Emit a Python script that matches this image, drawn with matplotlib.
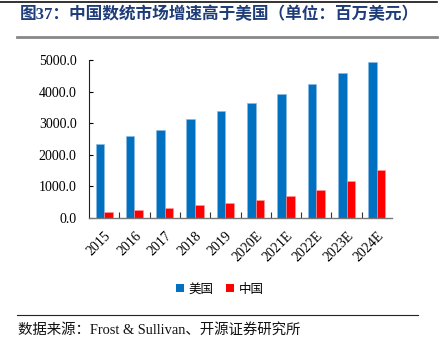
import matplotlib
matplotlib.use("Agg")
import matplotlib.pyplot as plt
import numpy as np
from matplotlib.lines import Line2D
from matplotlib.patches import Patch

MIX = ["Liberation Serif", "Noto Sans CJK SC"]
plt.rcParams["font.family"] = MIX

years = ["2015", "2016", "2017", "2018", "2019", "2020E", "2021E", "2022E", "2023E", "2024E"]
usa = [2350, 2610, 2800, 3125, 3375, 3650, 3930, 4245, 4580, 4925]
china = [200, 252, 314, 409, 472, 566, 692, 901, 1174, 1509]
y_ticks = [0, 1000, 2000, 3000, 4000, 5000]

C_US = "#0070C0"
C_CN = "#FF0000"

fig = plt.figure(figsize=(4.45, 3.48), dpi=100)
ax = fig.add_axes([89 / 445, 1 - 218 / 348, (392 - 89) / 445, (218 - 60) / 348])

x = np.arange(len(years))
w = 0.285
ax.bar(x - w / 2, usa, w, color=C_US, edgecolor="#8db9e3", linewidth=0.4)
ax.bar(x + w / 2, china, w, color=C_CN, edgecolor="#ff9a9a", linewidth=0.4)

ax.set_xlim(-0.5, len(years) - 0.5)
ax.set_ylim(0, 5000)
ax.set_yticks(y_ticks)
ax.set_yticklabels([f"{v:.1f}" for v in y_ticks], fontsize=10)
ax.set_xticks(x)
ax.set_xticklabels(years, rotation=45, ha="right", rotation_mode="anchor", fontsize=10)
ax.set_xticks(x[:-1] + 0.5, minor=True)
ax.tick_params(axis="x", which="major", length=0, pad=8)
ax.tick_params(axis="x", which="minor", direction="in", length=4, width=0.8, color="#333")
ax.tick_params(axis="y", direction="in", length=3, width=0.8, pad=9)
ax.spines[["top", "right"]].set_visible(False)
ax.spines["left"].set_color("#222")
ax.spines["bottom"].set_color("#777")
ax.spines["left"].set_linewidth(0.8)
ax.spines["bottom"].set_linewidth(1.0)

# legend
handles = [Patch(facecolor=C_US), Patch(facecolor=C_CN)]
fig.legend(handles, ["美国", "中国"], loc="center", bbox_to_anchor=(220 / 445, 1 - 289 / 348),
           ncol=2, frameon=False, handlelength=0.6, handleheight=0.6,
           handletextpad=0.4, columnspacing=1.0, prop={"family": "Noto Sans CJK SC", "size": 9})

# title and rules
fig.text(20 / 445, 1 - 15 / 348, "图37：中国数统市场增速高于美国（单位：百万美元）",
         fontsize=12, fontweight="bold", color="#1F3D78", va="center", ha="left")
fig.add_artist(Line2D([0, 437 / 445], [1 - 2 / 348] * 2, color="#111", lw=1.2))
fig.add_artist(Line2D([17 / 445, 437 / 445], [1 - 37 / 348] * 2, color="#888", lw=2.0))
fig.add_artist(Line2D([17 / 445, 418 / 445], [1 - 315 / 348] * 2, color="#222", lw=0.8))
fig.text(18 / 445, 1 - 330 / 348, "数据来源：Frost & Sullivan、开源证券研究所",
         fontsize=10.4, color="#111", va="center", ha="left")

fig.savefig("out.png", dpi=100, facecolor="white")
